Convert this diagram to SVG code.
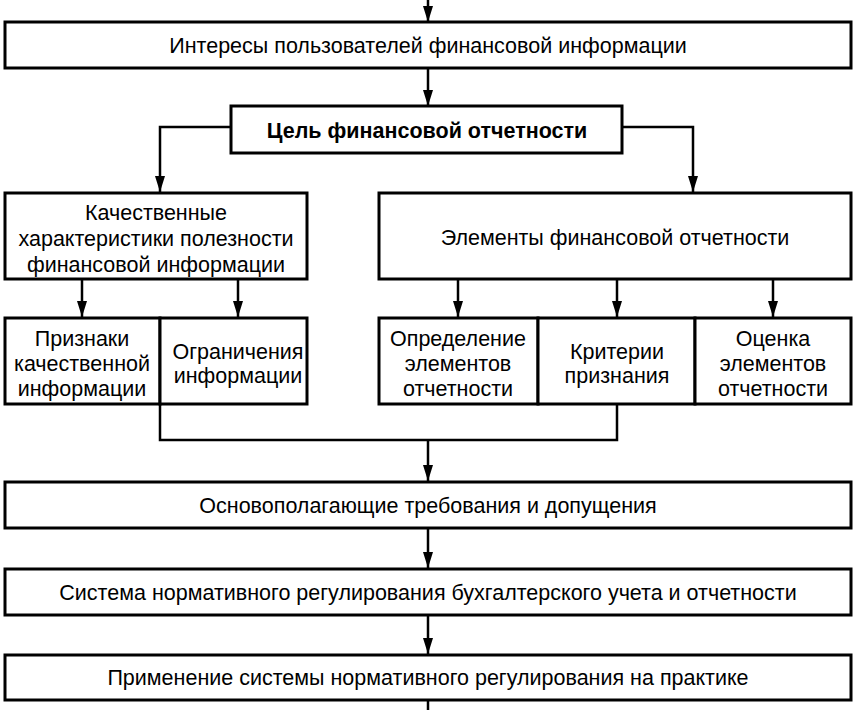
<svg xmlns="http://www.w3.org/2000/svg" width="857" height="710" viewBox="0 0 857 710">
<style>
rect{fill:#fff;stroke:#000;stroke-width:3}
text{font-family:"Liberation Sans",Arial,sans-serif;font-size:21.5px;text-anchor:middle;fill:#000}
.b{font-weight:bold}
.c{fill:none;stroke:#000;stroke-width:2.5}
</style>
<defs>
<marker id="d" markerWidth="16" markerHeight="10" refX="16" refY="5" orient="auto" markerUnits="userSpaceOnUse" viewBox="0 0 16 10"><path d="M0,0 L16,5 L0,10 Z" fill="#000"/></marker></defs>
<g id="connectors">
<path class="c" marker-end="url(#d)" d="M428,0 V22"/>
<path class="c" marker-end="url(#d)" d="M428,68 V106"/>
<path class="c" marker-end="url(#d)" d="M231,127 H160 V192"/>
<path class="c" marker-end="url(#d)" d="M622,127 H693 V192"/>
<path class="c" marker-end="url(#d)" d="M82,279 V317"/>
<path class="c" marker-end="url(#d)" d="M238,279 V317"/>
<path class="c" marker-end="url(#d)" d="M458,279 V317"/>
<path class="c" marker-end="url(#d)" d="M617,279 V317"/>
<path class="c" marker-end="url(#d)" d="M773,279 V317"/>
<path class="c" d="M160,404 V440 H617 V404"/>
<path class="c" marker-end="url(#d)" d="M428,440 V481"/>
<path class="c" marker-end="url(#d)" d="M428,528 V568"/>
<path class="c" marker-end="url(#d)" d="M428,615 V654"/>
<path class="c" d="M428,700 V710"/>
</g>
<g id="n1"><rect x="5" y="22" width="846" height="46"/><text x="428" y="53">Интересы пользователей финансовой информации</text></g>
<g id="n2"><rect x="231" y="106" width="391" height="47"/><text class="b" x="427" y="138">Цель финансовой отчетности</text></g>
<g id="n3"><rect x="5" y="193" width="302" height="86"/><text x="156" y="220">Качественные</text><text x="156" y="246">характеристики полезности</text><text x="156" y="272">финансовой информации</text></g>
<g id="n4"><rect x="379" y="193" width="472" height="86"/><text x="615" y="245">Элементы финансовой отчетности</text></g>
<g id="n5"><rect x="5" y="318" width="155" height="86"/><text x="82" y="346">Признаки</text><text x="82" y="371">качественной</text><text x="82" y="396">информации</text></g>
<g id="n6"><rect x="160" y="318" width="147" height="86"/><text x="238" y="359">Ограничения</text><text x="238" y="383">информации</text></g>
<g id="n7"><rect x="379" y="318" width="159" height="86"/><text x="458" y="346">Определение</text><text x="458" y="371">элементов</text><text x="458" y="396">отчетности</text></g>
<g id="n8"><rect x="538" y="318" width="157" height="86"/><text x="617" y="359">Критерии</text><text x="617" y="383">признания</text></g>
<g id="n9"><rect x="695" y="318" width="156" height="86"/><text x="773" y="346">Оценка</text><text x="773" y="371">элементов</text><text x="773" y="396">отчетности</text></g>
<g id="n10"><rect x="5" y="482" width="846" height="46"/><text x="428" y="513">Основополагающие требования и допущения</text></g>
<g id="n11"><rect x="5" y="569" width="846" height="46"/><text x="428" y="600">Система нормативного регулирования бухгалтерского учета и отчетности</text></g>
<g id="n12"><rect x="5" y="655" width="846" height="45"/><text x="428" y="685">Применение системы нормативного регулирования на практике</text></g>
</svg>
